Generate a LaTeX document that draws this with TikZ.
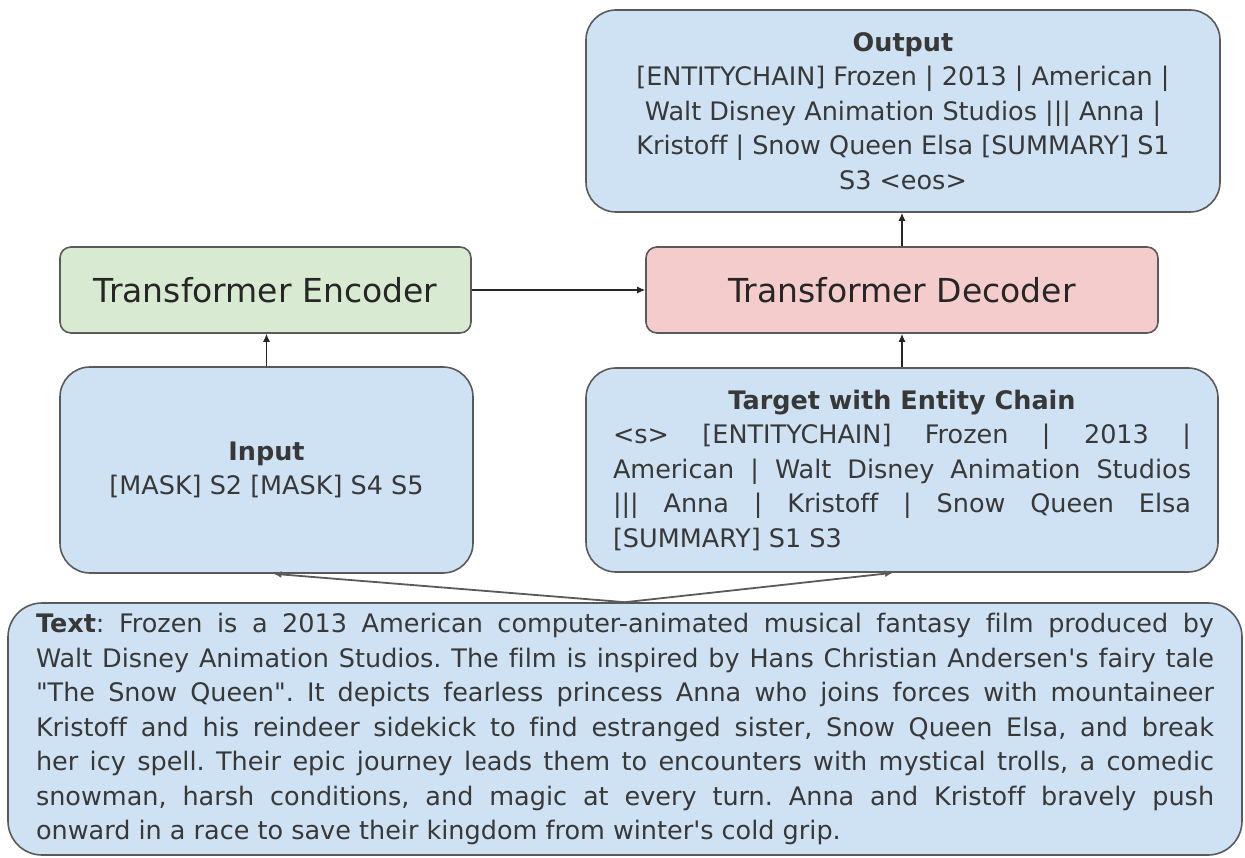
\documentclass[tikz,border=0pt]{standalone}
\usepackage{fontspec}
\setmainfont{DejaVu Sans}[Ligatures={TeXOff,CommonOff}]
\usetikzlibrary{arrows.meta}
\definecolor{boxblue}{HTML}{CFE2F3}
\definecolor{boxgreen}{HTML}{D9EAD3}
\definecolor{boxred}{HTML}{F4CCCC}
\definecolor{edgegray}{HTML}{5A5A5A}
\definecolor{txtgray}{HTML}{383838}
\definecolor{dark}{HTML}{262626}
\newcommand{\jline}[2]{\makebox[#1pt][s]{#2}}
\newcommand{\lline}[2]{\makebox[#1pt][l]{#2}}
\frenchspacing
\begin{document}
\begin{tikzpicture}[x=1pt,y=-1pt,
  base/.style={draw=edgegray, line width=1.6pt, inner sep=0pt, text=txtgray,
    font=\fontsize{25.5}{34.5}\selectfont, align=center},
  bluebox/.style={base, fill=boxblue, rounded corners=30pt},
  blockbox/.style={base, rounded corners=11pt, text=dark,
    font=\fontsize{33}{40}\selectfont},
  arr/.style={draw=dark, line width=1.2pt, -{Latex[length=8pt,width=7pt]}},
  fanarr/.style={draw=edgegray, line width=1.8pt, -{Latex[length=8pt,width=7pt]}}
]
\useasboundingbox (0,0) rectangle (1245,858);

\node[bluebox, minimum width=634pt, minimum height=202pt] (out) at (903,111)
  {\textbf{Output}\\
   {[ENTITYCHAIN] Frozen | 2013 | American |}\\
   Walt Disney Animation Studios ||| Anna |\\
   Kristoff | Snow Queen Elsa [SUMMARY] S1\\
   S3 <eos>};

\node[blockbox, fill=boxgreen, minimum width=411pt, minimum height=86pt] (enc) at (265.5,290)
  {Transformer Encoder};
\node[blockbox, fill=boxred, minimum width=512pt, minimum height=86pt] (dec) at (902,290)
  {Transformer Decoder};

\node[bluebox, minimum width=413pt, minimum height=206pt] (inp) at (266.5,470)
  {\textbf{Input}\\ {[MASK] S2 [MASK] S4 S5}};

\node[bluebox, minimum width=632pt, minimum height=204pt] (tgt) at (902,470)
  {\textbf{Target with Entity Chain}\\
   \jline{578}{<s> [ENTITYCHAIN] Frozen | 2013 |}\\
   \jline{578}{American | Walt Disney Animation Studios}\\
   \jline{578}{||| Anna | Kristoff | Snow Queen Elsa}\\
   \lline{578}{[SUMMARY] S1 S3}};

\node[bluebox, rounded corners=34pt, minimum width=1234pt, minimum height=252pt] (txt) at (625,729)
  {\jline{1178}{\textbf{Text}: Frozen is a 2013 American computer-animated musical fantasy film produced by}\\
   \jline{1178}{Walt Disney Animation Studios. The film is inspired by Hans Christian Andersen's fairy tale}\\
   \jline{1178}{"The Snow Queen". It depicts fearless princess Anna who joins forces with mountaineer}\\
   \jline{1178}{Kristoff and his reindeer sidekick to find estranged sister, Snow Queen Elsa, and break}\\
   \jline{1178}{her icy spell. Their epic journey leads them to encounters with mystical trolls, a comedic}\\
   \jline{1178}{snowman, harsh conditions, and magic at every turn. Anna and Kristoff bravely push}\\
   \lline{1178}{onward in a race to save their kingdom from winter's cold grip.}};

\draw[arr] (enc.east) -- (dec.west);
\draw[arr] (inp.north) -- (inp.north |- enc.south);
\draw[arr] (tgt.north) -- (dec.south);
\draw[arr] (dec.north) -- (dec.north |- out.south);
\draw[fanarr] (txt.north) -- ([xshift=7pt]inp.south);
\draw[fanarr] (txt.north) -- ([xshift=-9pt]tgt.south);
\end{tikzpicture}
\end{document}
